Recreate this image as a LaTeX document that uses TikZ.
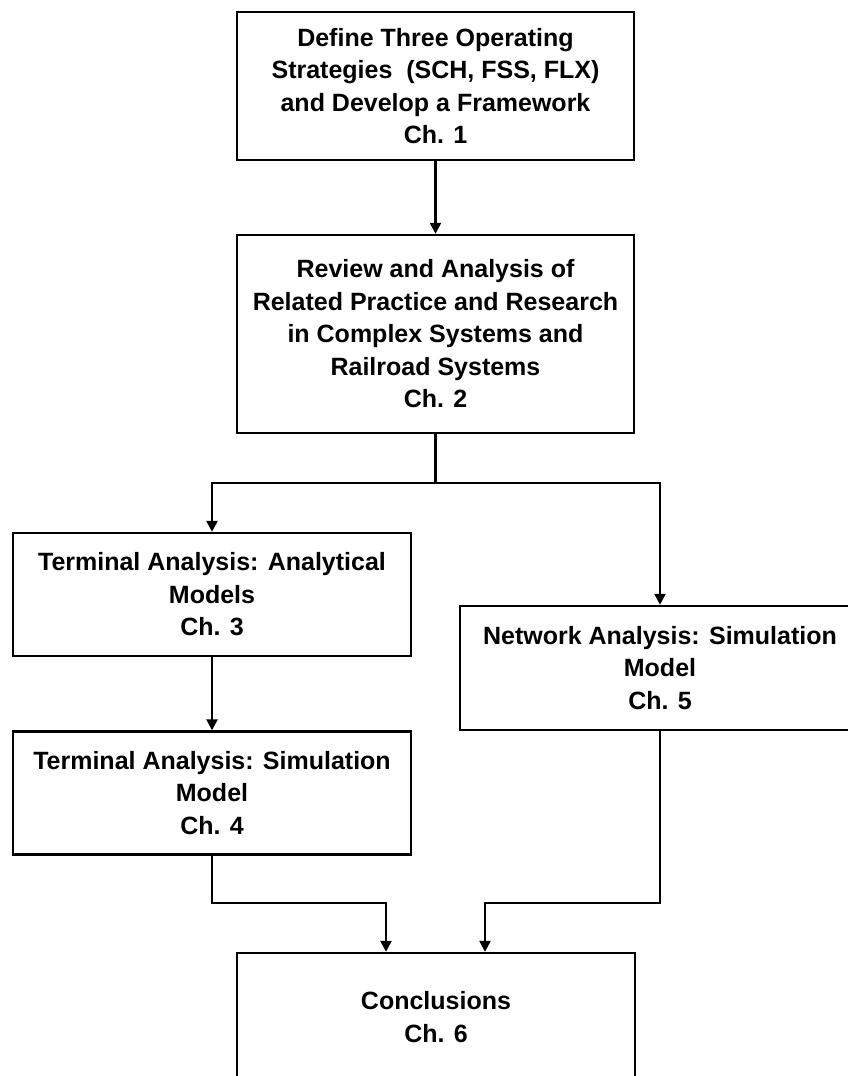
\documentclass[tikz,border=0pt]{standalone}
\usepackage{fontspec}
\setmainfont{Liberation Sans}
\usetikzlibrary{arrows.meta}
\begin{document}
\begin{tikzpicture}[x=1pt,y=-1pt,
  box/.style={draw,line width=2.4pt,rectangle,inner sep=0pt,align=center,
    font=\fontsize{25}{32.5}\selectfont\bfseries},
  link/.style={line width=2.4pt},
  arr/.style={line width=2.4pt,-{Triangle[width=11pt,length=11pt]}}]
\useasboundingbox (0,0) rectangle (848,1076);
\node[box,minimum width=397pt,minimum height=148pt] (b1) at (435.5,86)
  {Define Three Operating\\Strategies\ \ (SCH, FSS, FLX)\\and Develop a Framework\\Ch. 1};
\node[box,minimum width=397pt,minimum height=198pt] (b2) at (435.5,334)
  {Review and Analysis of\\Related Practice and Research\\in Complex Systems and\\Railroad Systems\\Ch. 2};
\node[box,minimum width=398pt,minimum height=123pt] (b3) at (212,594.5)
  {Terminal Analysis: Analytical\\Models\\Ch. 3};
\node[box,minimum width=398pt,minimum height=123pt] (b4) at (212,793)
  {Terminal Analysis: Simulation\\Model\\Ch. 4};
\node[box,minimum width=400pt,minimum height=124pt] (b5) at (660,668)
  {Network Analysis: Simulation\\Model\\Ch. 5};
\node[box,minimum width=398pt,minimum height=128pt] (b6) at (436,1017)
  {Conclusions\\Ch. 6};
\coordinate (j1) at (435.5,483);
\coordinate (m1) at (386,903);
\coordinate (m2) at (485,903);
\draw[arr] (b1.south) -- (b2.north);
\draw[link] (b2.south) -- (j1);
\draw[arr] (j1) -| (b3.north);
\draw[arr] (j1) -| (b5.north);
\draw[arr] (b3.south) -- (b4.north);
\draw[arr] (b4.south) |- (m1) -- (m1 |- b6.north);
\draw[arr] (b5.south) |- (m2) -- (m2 |- b6.north);
\end{tikzpicture}
\end{document}
